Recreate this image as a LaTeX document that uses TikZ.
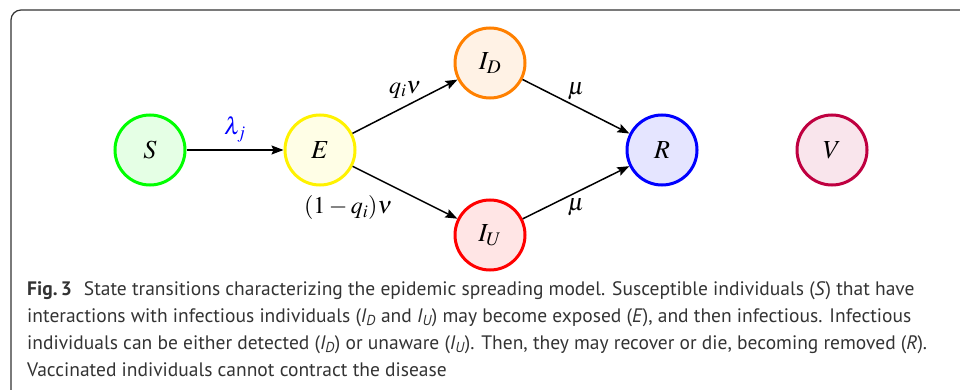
\documentclass[tikz,border=0pt]{standalone}
\usepackage{mathptmx}
\usepackage[no-math]{fontspec}
\setsansfont{PT Sans}
\usetikzlibrary{arrows.meta,positioning}
\definecolor{capgray}{HTML}{333333}
\tikzset{
  state/.style={circle, draw, line width=3pt, minimum size=70pt, inner sep=0pt, font=\fontsize{26}{30}\selectfont},
  trans/.style={line width=1.5pt, -{Stealth[length=12pt,width=9pt,inset=2pt]}},
  rate/.style={font=\fontsize{24}{28}\selectfont},
  frame/.style={draw=capgray, line width=1.2pt, rounded corners=10pt},
  caption/.style={align=left, inner sep=0pt, text=capgray, font=\sffamily\fontsize{19.5}{27}\selectfont}
}

\begin{document}
\begin{tikzpicture}[x=1pt,y=-1pt]
  \useasboundingbox (0,0) rectangle (960,390);
  % frame
  \draw[frame] (11,400) -- (11,10) -- (970,10);
  % states
  \node[state, draw=green, fill=green!10] (S) at (150,150) {$S$};
  \node[state, draw=yellow, fill=yellow!10] (E) at (320,150) {$E$};
  \node[state, draw=orange, fill=orange!10] (ID) at (490,63) {$I_D$};
  \node[state, draw=red, fill=red!10] (IU) at (490,235) {$I_U$};
  \node[state, draw=blue, fill=blue!10] (R) at (662,150) {$R$};
  \node[state, draw=purple, fill=purple!10] (V) at (832,150) {$V$};
  % transitions
  \draw[trans] (S) -- node[rate, above=4pt, text=blue] (lam) {$\lambda_j$} (E);
  \draw[trans] (E) -- node[rate, above=4pt] (qnu) {$q_i\nu$} (ID);
  \draw[trans] (E) -- node[rate, pos=0.1, below=20pt, xshift=-15pt] (pnu) {$(1-q_i)\nu$} (IU);
  \draw[trans] (ID) -- node[rate, above=3pt] (mu1) {$\mu$} (R);
  \draw[trans] (IU) -- node[rate, below=2pt] (mu2) {$\mu$} (R);
  % caption
  \node[caption, anchor=north west] (cap) at (27,281) {%
    \textbf{Fig.\,3}\hspace{0.35em} State transitions characterizing the epidemic spreading model. Susceptible individuals (\textit{S}) that have\\
    interactions with infectious individuals (\textit{I\textsubscript{D}} and \textit{I\textsubscript{U}}) may become exposed (\textit{E}), and then infectious. Infectious\\
    individuals can be either detected (\textit{I\textsubscript{D}}) or unaware (\textit{I\textsubscript{U}}). Then, they may recover or die, becoming removed (\textit{R}).\\
    Vaccinated individuals cannot contract the disease};
\end{tikzpicture}
\end{document}
